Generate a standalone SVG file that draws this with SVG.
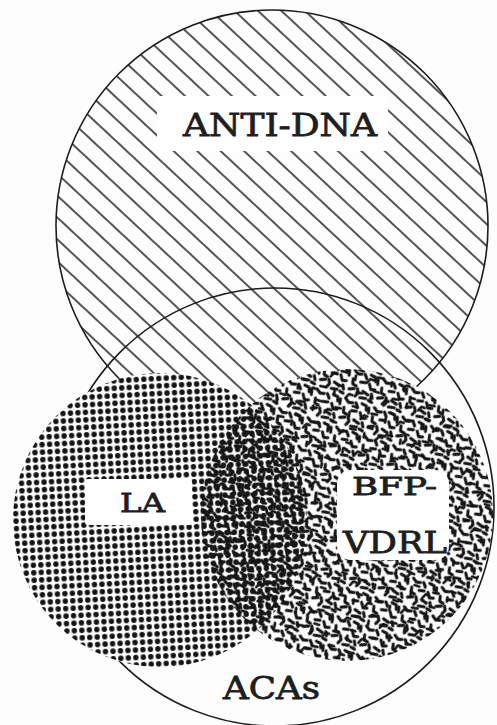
<svg xmlns="http://www.w3.org/2000/svg" width="497" height="725" viewBox="0 0 497 725">
  <style>
    .outline { fill: none; stroke: #1c1c1c; stroke-width: 1.6; }
    .lbl { font-family: "DejaVu Serif", "Liberation Serif", serif; font-weight: normal; fill: #1e1e1e; stroke: #1e1e1e; stroke-width: 0.8; text-anchor: middle; }
    .box { fill: #ffffff; }
    .worm { fill: none; stroke: #151515; stroke-width: 3; stroke-linecap: round; stroke-linejoin: round; }
  </style>
  <defs>
    <pattern id="hatch" patternUnits="userSpaceOnUse" width="16" height="16" patternTransform="rotate(43)">
      <line x1="-1" y1="8" x2="17" y2="8" stroke="#1c1c1c" stroke-width="1.5"/>
    </pattern>
    <pattern id="dots" patternUnits="userSpaceOnUse" width="7.5" height="7.5" patternTransform="rotate(-3)">
      <circle cx="3.75" cy="3.75" r="2.7" fill="#141414"/>
    </pattern>
    <pattern id="wormsA" patternUnits="userSpaceOnUse" width="30" height="30" patternTransform="rotate(18)">
      <g class="worm">
        <path d="M2 2 l4 3 l4 -1"/>
        <path d="M13 3 l3 4"/>
        <path d="M19 2 l5 1 l1 4"/>
        <path d="M27 4 l1 5"/>
        <path d="M3 11 l1 5 l4 1"/>
        <path d="M11 12 l5 -1"/>
        <path d="M20 11 l3 5 l4 -1"/>
        <path d="M2 22 l5 -2"/>
        <path d="M10 19 l2 4 l-2 4"/>
        <path d="M16 20 l6 2"/>
        <path d="M25 20 l2 4"/>
        <path d="M15 27 l6 -1"/>
        <path d="M24 27 l4 1"/>
      </g>
    </pattern>
    <pattern id="wormsB" patternUnits="userSpaceOnUse" width="26" height="26" patternTransform="rotate(-35)">
      <g class="worm" style="stroke-width:2.6">
        <path d="M3 4 l5 -1 l2 3"/>
        <path d="M15 6 l4 4"/>
        <path d="M4 15 l3 4"/>
        <path d="M21 21 l3 -3"/>
      </g>
    </pattern>
  </defs>

  <rect x="0" y="0" width="497" height="725" fill="#fdfdfd"/>

  <g id="anti-dna">
    <circle cx="272" cy="226" r="216" fill="url(#hatch)"/>
    <circle class="outline" cx="272" cy="226" r="216"/>
  </g>

  <g id="acas">
    <circle class="outline" cx="275" cy="507" r="219"/>
  </g>

  <g id="la-bfp-bases">
    <circle cx="160" cy="520" r="147" fill="#fdfdfd"/>
    <circle cx="347" cy="515" r="146" fill="#fdfdfd"/>
  </g>

  <g id="la">
    <circle cx="160" cy="520" r="147" fill="url(#dots)"/>
  </g>

  <g id="bfp-vdrl">
    <circle cx="347" cy="515" r="146" fill="url(#wormsA)"/>
    <circle cx="347" cy="515" r="146" fill="url(#wormsB)"/>
  </g>

  <g id="labels">
    <rect class="box" x="157" y="96" width="231" height="55" rx="4"/>
    <text class="lbl" x="280" y="136" font-size="31" textLength="194" lengthAdjust="spacingAndGlyphs">ANTI-DNA</text>

    <rect class="box" x="85" y="479" width="107" height="46" rx="3"/>
    <text class="lbl" x="142.5" y="512" font-size="26" textLength="45" lengthAdjust="spacingAndGlyphs">LA</text>

    <rect class="box" x="337" y="470" width="112" height="90" rx="14"/>
    <text class="lbl" x="394.5" y="495" font-size="25" textLength="85" lengthAdjust="spacingAndGlyphs">BFP-</text>
    <text class="lbl" x="395" y="553" font-size="30" textLength="104" lengthAdjust="spacingAndGlyphs">VDRL</text>

    <text class="lbl" x="271.5" y="699" font-size="31" textLength="97" lengthAdjust="spacingAndGlyphs">ACAs</text>
  </g>
</svg>
